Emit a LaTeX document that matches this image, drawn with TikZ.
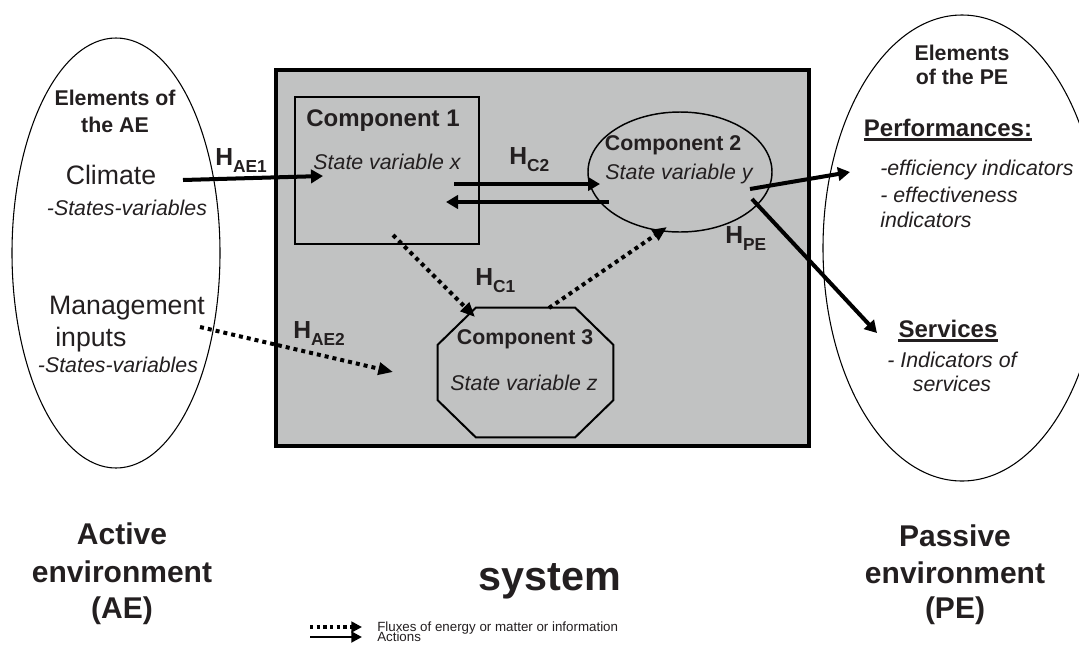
\documentclass[tikz,border=0pt]{standalone}
\usepackage{fontspec}
\setmainfont{Liberation Sans}
\usetikzlibrary{arrows.meta,shapes.geometric}
\definecolor{ink}{HTML}{231F20}
\definecolor{sysgray}{RGB}{193,194,194}
% H label with a bold lowered subscript
\newcommand{\Hlab}[1]{\textbf{\fontsize{18.5pt}{18.5pt}\selectfont H\raisebox{-5.5pt}{\fontsize{13pt}{13pt}\selectfont #1}}}
\tikzset{
  txt/.style={inner sep=0pt, text=ink, anchor=base},
  big/.style={txt, font=\fontsize{20pt}{20pt}\selectfont},
  var/.style={txt, font=\fontsize{16pt}{16pt}\selectfont\itshape},
  comp/.style={txt, font=\fontsize{18pt}{18pt}\selectfont\bfseries},
  compsm/.style={txt, font=\fontsize{16pt}{16pt}\selectfont\bfseries},
  elem/.style={txt, font=\fontsize{16pt}{16pt}\selectfont\bfseries},
  head/.style={txt, font=\fontsize{18pt}{18pt}\selectfont\bfseries},
  env/.style={txt, font=\fontsize{22.5pt}{22.5pt}\selectfont\bfseries},
  hlab/.style={inner sep=0pt, text=ink, anchor=base west},
  legend/.style={txt, anchor=base west, font=\fontsize{10pt}{10pt}\selectfont},
  act/.style={line width=3pt, -{Triangle[length=9pt,width=10pt]}},
  flux/.style={line width=3pt, dash pattern=on 3pt off 3pt, -{Triangle[length=11pt,width=9pt]}},
  legact/.style={line width=2.2pt, -{Triangle[length=8pt,width=8pt]}},
  legflux/.style={line width=2.4pt, dash pattern=on 2.5pt off 2.5pt, -{Triangle[length=8pt,width=8pt]}},
}
\begin{document}
\begin{tikzpicture}[x=0.75pt,y=-0.75pt]
\useasboundingbox (0,0) rectangle (1079,644);
\clip (0,0) rectangle (1079,644);

% system box
\node (sys) [draw, line width=2.6pt, fill=sysgray, minimum width=399.75pt, minimum height=282pt, inner sep=0pt] at (542.5,258) {};

% environments
\node (ae) [ellipse, draw, line width=0.8pt, minimum width=156pt, minimum height=322.5pt, inner sep=0pt] at (116,253) {};
\node (pe) [ellipse, draw, line width=0.8pt, minimum width=208.5pt, minimum height=349.5pt, inner sep=0pt] at (962,248) {};

% components
\node (c1) [draw, line width=1.1pt, minimum width=138pt, minimum height=110.25pt, inner sep=0pt] at (387,170.5) {};
\node (c2) [ellipse, draw, line width=1.1pt, minimum width=138pt, minimum height=90pt, inner sep=0pt] at (680,172) {};
\node (c3) [minimum width=131.25pt, minimum height=96.75pt, inner sep=0pt] at (525.5,372.5) {};
\draw[line width=1.5pt]
  ([xshift=28.5pt]c3.north west) -- ([xshift=-28.5pt]c3.north east)
  -- ([yshift=-27.75pt]c3.north east) -- ([yshift=27.75pt]c3.south east)
  -- ([xshift=-28.5pt]c3.south east) -- ([xshift=28.5pt]c3.south west)
  -- ([yshift=27.75pt]c3.south west) -- ([yshift=-27.75pt]c3.north west) -- cycle;

% texts of the active environment
\node (aeh1) [elem] at (115,105.5) {Elements of};
\node (aeh2) [elem] at (115,132.5) {the AE};
\node (clim) [big] at (111,184.5) {Climate};
\node (climv) [var] at (127,215.5) {-States-variables};
\node (mgmt) [big] at (127,314.5) {Management};
\node (mgmt2) [big, anchor=base west] at (55,346) {inputs};
\node (mgmtv) [var] at (118,372.5) {-States-variables};

% texts of the components
\node (c1t) [comp] at (383,126.5) {Component 1};
\node (c1v) [var] at (387,169.5) {State variable x};
\node (c2t) [compsm] at (673,150.5) {Component 2};
\node (c2v) [var] at (679,179.5) {State variable y};
\node (c3t) [compsm] at (525,344.5) {Component 3};
\node (c3v) [var] at (524,390.5) {State variable z};

% texts of the passive environment
\node (peh1) [elem] at (962,60.5) {Elements};
\node (peh2) [elem] at (962,84.5) {of the PE};
\node (perf) [head] at (948,136) {Performances:};
\draw[line width=1.8pt, ink] ([yshift=-2.6pt]perf.base west) -- ([yshift=-2.6pt]perf.base east);
\node (eff1) [var, anchor=base west] at (880,175) {-efficiency indicators};
\node (eff2) [var, anchor=base west] at (880,202) {- effectiveness};
\node (eff3) [var, anchor=base west] at (880,227) {indicators};
\node (serv) [head] at (948,337) {Services};
\draw[line width=1.8pt, ink] ([yshift=-2.6pt]serv.base west) -- ([yshift=-2.6pt]serv.base east);
\node (serv1) [var] at (952,367) {- Indicators of};
\node (serv2) [var] at (952,391) {services};

% arrow end points
\coordinate (ae1a) at (183,180);  \coordinate (ae1b) at (323,176);
\coordinate (c2fa) at (454,184);  \coordinate (c2fb) at (600,184);
\coordinate (c2ba) at (609,202);  \coordinate (c2bb) at (446,202);
\coordinate (pe1a) at (750,189);  \coordinate (pe1b) at (850,172);
\coordinate (pe2a) at (752,199);  \coordinate (pe2b) at (877,333);
\coordinate (c1a)  at (393,235);  \coordinate (c1b)  at (475,317);
\coordinate (c3a)  at (549,308);  \coordinate (c3b)  at (667,227);
\coordinate (ae2a) at (200,327);  \coordinate (ae2b) at (393,372);

% actions
\draw[act] (ae1a) -- (ae1b);
\draw[act] (c2fa) -- (c2fb);
\draw[act] (c2ba) -- (c2bb);
\draw[act] (pe1a) -- (pe1b);
\draw[act] (pe2a) -- (pe2b);
% fluxes
\draw[flux] (c1a) -- (c1b);
\draw[flux] (c3a) -- (c3b);
\draw[flux] (ae2a) -- (ae2b);

% flux labels
\node (hae1) [hlab] at (215,165) {\Hlab{AE1}};
\node (hc2) [hlab] at (509,164) {\Hlab{C2}};
\node (hc1) [hlab] at (475,285) {\Hlab{C1}};
\node (hae2) [hlab] at (293,338) {\Hlab{AE2}};
\node (hpe) [hlab] at (725,243) {\Hlab{PE}};

% bottom titles
\node (act1) [env] at (122,544) {Active};
\node (act2) [env] at (122,582) {environment};
\node (act3) [env] at (122,618) {(AE)};
\node (pas1) [env] at (955,546) {Passive};
\node (pas2) [env] at (955,583) {environment};
\node (pas3) [env] at (955,618) {(PE)};
\node (systxt) [txt, font=\fontsize{31pt}{31pt}\selectfont\bfseries] at (550,590) {system};

% legend
\coordinate (lfa) at (310,627); \coordinate (lfb) at (362,627);
\coordinate (laa) at (310,637); \coordinate (lab) at (362,637);
\draw[legflux] (lfa) -- (lfb);
\draw[legact] (laa) -- (lab);
\node (lflux) [legend] at (377,631) {Fluxes of energy or matter or information};
\node (lact) [legend] at (377,641) {Actions};
\end{tikzpicture}
\end{document}
